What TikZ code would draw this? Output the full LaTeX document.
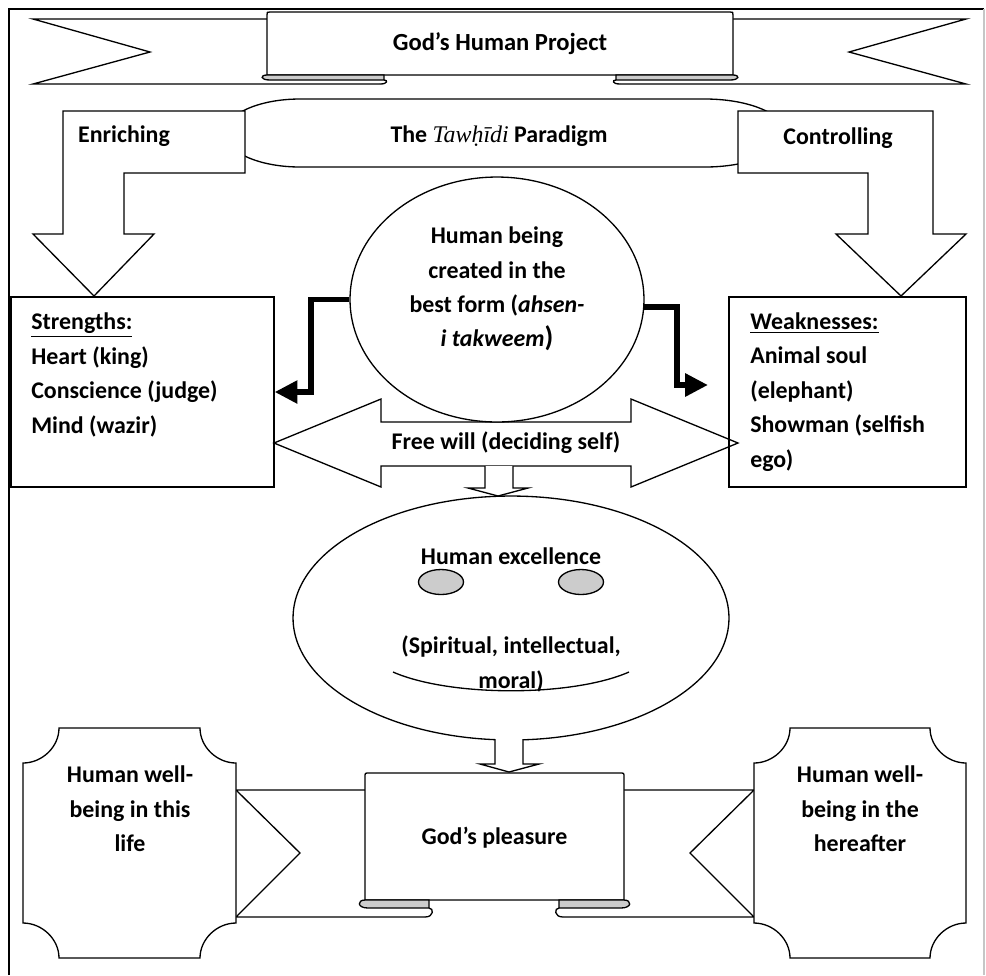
\documentclass[tikz,border=0pt]{standalone}
\usepackage{fontspec}
\setmainfont{Carlito}
\newfontfamily\tawfont{Liberation Serif}
\usetikzlibrary{shapes.geometric, arrows.meta, positioning}

\begin{document}
\begin{tikzpicture}[x=0.02cm, y=-0.02cm]
    % styles (coordinates are in pixels, y pointing down)
    \tikzset{
        txt/.style   = {font=\fontsize{13.6}{19.6}\selectfont\bfseries, inner sep=0pt},
        rib/.style   = {draw, line width=0.75pt},
        box/.style   = {rectangle, draw, line width=0.75pt, inner sep=0pt},
        oval/.style  = {ellipse, draw, line width=0.75pt, fill=white, inner sep=0pt},
        eye/.style   = {ellipse, draw, line width=0.75pt, fill=gray!40, minimum width=0.9cm, minimum height=0.5cm, inner sep=0pt},
        curl/.style  = {draw, line width=0.75pt, fill=gray!40},
        elbow/.style = {line width=3.4pt, -{Triangle[length=13pt, width=12.5pt]}}
    }
    \useasboundingbox (0,0) rectangle (986,975);

    % frame
    \draw[line width=1.1pt] (9,975) -- (9,9) -- (984,9);
    \draw[line width=1pt, gray!45] (984,9) -- (984,975);

    % top ribbon
    \draw[rib] (267,19) -- (33,19) -- (150,52) -- (33,84) -- (380,84);
    \draw[rib] (733,19) -- (966,19) -- (849,52) -- (966,84) -- (620,84);
    \draw[rib, fill=white] (267,75) -- (267,15) .. controls (267,12) .. (270,12) -- (730,12) .. controls (733,12) .. (733,15) -- (733,75) -- cycle;
    \draw[curl] (267,75) .. controls (260,75) and (260,80) .. (270,80) -- (384,80) -- (384,75) -- cycle;
    \draw[rib] (380,84) .. controls (388,84) and (388,80) .. (384,80);
    \draw[curl] (733,75) .. controls (740,75) and (740,80) .. (730,80) -- (616,80) -- (616,75) -- cycle;
    \draw[rib] (620,84) .. controls (612,84) and (612,80) .. (616,80);
    \node[txt, font=\fontsize{14}{19.6}\selectfont\bfseries] (title) at (500,44) {God’s Human Project};

    % paradigm band and the two bent arrows
    \draw[rib, fill=white] (300,99) -- (705,99) .. controls (749,99) and (785,114) .. (785,133) .. controls (785,152) and (749,167) .. (705,167) -- (300,167) .. controls (259,167) and (225,152) .. (225,133) .. controls (225,114) and (259,99) .. (300,99) -- cycle;
    \node[txt] (paradigm) at (499,136) {The {\tawfont\itshape\mdseries Tawḥīdi} Paradigm};
    \draw[rib, fill=white] (63,111) -- (245,111) -- (245,173) -- (124,173) -- (124,234) -- (154,234) -- (94,296) -- (33,234) -- (63,234) -- cycle;
    \node[txt] (enrich) at (124,136) {Enriching};
    \draw[rib, fill=white] (738,111) -- (933,111) -- (933,234) -- (966,234) -- (901,296) -- (836,234) -- (868,234) -- (868,173) -- (738,173) -- cycle;
    \node[txt] (control) at (838,138) {Controlling};

    % free will
    \draw[rib, fill=white] (274,443) -- (381,399) -- (381,422) -- (631,422) -- (631,399) -- (738,443) -- (631,487) -- (631,466) -- (381,466) -- (381,487) -- cycle;
    \node[txt] (will) at (506,443) {Free will (deciding self)};

    % strengths and weaknesses
    \node[box, minimum width=5.26cm, minimum height=3.8cm] (strengths) at (142.5,392) {};
    \node[txt, align=left, anchor=west] (strtxt) at (31,375) {\underline{Strengths:}\\Heart (king)\\Conscience (judge)\\Mind (wazir)};
    \node[box, minimum width=4.74cm, minimum height=3.8cm] (weak) at (847.5,392) {};
    \node[txt, align=left, anchor=west] (weaktxt) at (750,392) {\underline{Weaknesses:}\\Animal soul\\(elephant)\\Showman (selfish\\ego)};

    % human being
    \node[oval, minimum width=5.88cm, minimum height=4.9cm] (being) at (497,299.5) {};
    \node[txt, align=center] (beingtxt) at (497,289) {Human being\\created in the\\best form (\textit{ahsen-}\\\textit{i takweem}{\fontsize{16}{19.6}\selectfont)}};
    \coordinate (rtip) at (708,385);
    \draw[elbow] (being.west) -- ++(-38,0) |- (strengths.east);
    \draw[elbow] (being.-3) -- ++(33,0) |- (rtip);

    % human excellence
    \draw[rib, fill=white] (485,466) -- (485,488) -- (468,488) -- (498,496) -- (528,488) -- (513,488) -- (513,466);
    \node[oval, minimum width=8.72cm, minimum height=4.88cm] (excel) at (511,618) {};
    \node[txt] (exctitle) at (511,556) {Human excellence};
    \node[eye] (eyeL) at (441,582) {};
    \node[eye] (eyeR) at (581,582) {};
    \node[txt, align=center] (excsub) at (511,664) {(Spiritual, intellectual,\\moral)};
    \draw[rib] (393,672) .. controls (450,697) and (572,697) .. (629,672);
    \draw[rib, fill=white] (495,739) -- (495,764) -- (480,764) -- (509,772) -- (539,764) -- (523,764) -- (523,739);

    % bottom ribbon
    \draw[rib] (365,790) -- (236,790) -- (300,853) -- (236,917) -- (425,917);
    \draw[rib] (624,790) -- (754,790) -- (690,853) -- (754,917) -- (563,917);
    \draw[rib, fill=white] (365,900) -- (365,777) .. controls (365,773) .. (369,773) -- (620,773) .. controls (624,773) .. (624,777) -- (624,900) -- cycle;
    \draw[curl] (365,900) .. controls (357,900) and (357,908) .. (368,908) -- (429,908) -- (429,900) -- cycle;
    \draw[rib] (425,917) .. controls (434,917) and (434,908) .. (429,908);
    \draw[curl] (624,900) .. controls (632,900) and (632,908) .. (621,908) -- (559,908) -- (559,900) -- cycle;
    \draw[rib] (563,917) .. controls (554,917) and (554,908) .. (559,908);
    \node[txt] (pleasure) at (494.5,838) {God’s pleasure};

    % well-being plaques
    \foreach \xa/\xb in {23/236, 754/966} {
        \draw[rib, fill=white] (\xa+36,728) -- (\xb-36,728) .. controls (\xb-36,747) and (\xb-19,763) .. (\xb,763) -- (\xb,923) .. controls (\xb-19,923) and (\xb-36,939) .. (\xb-36,958) -- (\xa+36,958) .. controls (\xa+36,939) and (\xa+19,923) .. (\xa,923) -- (\xa,763) .. controls (\xa+19,763) and (\xa+36,747) .. (\xa+36,728) -- cycle;
    }
    \node[txt, align=center] (life) at (130,809) {Human well-\\being in this\\life};
    \node[txt, align=center] (hereafter) at (860,809) {Human well-\\being in the\\hereafter};
\end{tikzpicture}
\end{document}
